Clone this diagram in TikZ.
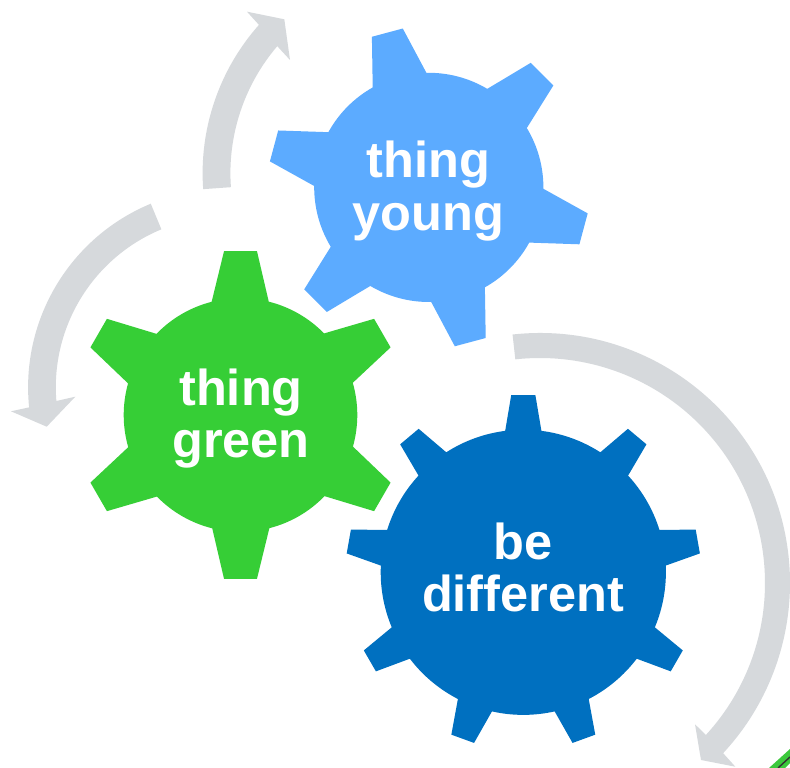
\documentclass[tikz,border=0pt]{standalone}
\usepackage{fontspec}
\setmainfont{Liberation Sans}
\usetikzlibrary{calc}
\definecolor{lightcog}{HTML}{5CABFF}
\definecolor{greencog}{HTML}{36CE36}
\definecolor{darkcog}{HTML}{0070C0}
\definecolor{arrowgrey}{HTML}{D6D9DC}
\definecolor{cornergreen}{HTML}{3CC83C}
\tikzset{
  x=1pt,y=1pt,
  coglabel/.style={text=white,font=\fontsize{50.5}{52.7}\selectfont\bfseries,align=center,inner sep=0pt},
  turnarrow/.style={fill=arrowgrey,draw=none}
}
% #1 colour, #2 centre, #3 teeth, #4 root radius, #5 tip radius, #6-#9 angles of the first tooth
\newcommand{\cogwheel}[9]{%
  \pgfmathsetmacro{\cogstep}{360/#3}%
  \pgfmathtruncatemacro{\coglast}{#3-1}%
  \begin{scope}[shift={(#2)}]
    \fill[#1] (#6:#4) \foreach \k in {0,...,\coglast}{
      -- ({#6-\k*\cogstep}:#4)
      -- ({#7-\k*\cogstep}:#5)
      -- ({#8-\k*\cogstep}:#5)
      -- ({#9-\k*\cogstep}:#4)
      arc[start angle={#9-\k*\cogstep},end angle={#6-(\k+1)*\cogstep},radius=#4]
    } -- cycle;
  \end{scope}}
% #1 centre, #2 outer r, #3 inner r, #4 tail angle, #5 outer neck angle, #6 inner neck angle, #7 head points
\newcommand{\turnarrowpath}[7]{%
  \fill[turnarrow] ($(#1)+(#4:#2)$) arc[start angle=#4,end angle=#5,radius=#2] #7
     -- ($(#1)+(#6:#3)$) arc[start angle=#6,end angle=#4,radius=#3] -- cycle;}
\begin{document}
\begin{tikzpicture}
  \useasboundingbox (0,0) rectangle (790,768);
  \fill[white] (0,0) rectangle (790,768);
  \coordinate (lightc) at (428.8,580.6);
  \coordinate (greenc) at (240.5,353);
  \coordinate (darkc) at (523.3,195.7);
  \coordinate (arrowa) at (426,594.8);
  \coordinate (arrowb) at (226.8,380.7);
  \coordinate (arrowc) at (540,185);

  % corner fragment
  \fill[cornergreen] (769,0) -- (790,19) -- (790,5) -- (785,0) -- cycle;
  \draw[black!80,line width=1.4pt] (778,0) -- (790,11);

  % turning arrows
  \turnarrowpath{arrowa}{223.4}{195.6}{184.1}{138.4}{139.5}{-- (247,756.3) -- (284.3,748.7) -- (290,708)}
  \turnarrowpath{arrowb}{198.7}{171}{112.5}{185.8}{184.6}{-- (11,356.7) -- (46.7,341.3) -- (75.3,371.3)}
  \turnarrowpath{arrowc}{250}{225}{96.3}{-42.9}{-42.5}{-- (735.3,1.3) -- (701,8) -- (695,43.7)}

  % cogs
  \cogwheel{lightcog}{lightc}{6}{114.6}{161}{119.3}{110.7}{99.3}{91.2}
  \cogwheel{greencog}{greenc}{6}{116.8}{164.6}{104.3}{95.75}{84.25}{76}
  \cogwheel{darkcog}{darkc}{9}{142.6}{177.6}{97.3}{93.9}{86.1}{82.7}

  \node[coglabel] (young) at (428.5,577) {thing\\young};
  \node[coglabel] (green) at (241,349.5) {thing\\green};
  \node[coglabel] (diff) at (523,200.5) {be\\different};
\end{tikzpicture}
\end{document}
